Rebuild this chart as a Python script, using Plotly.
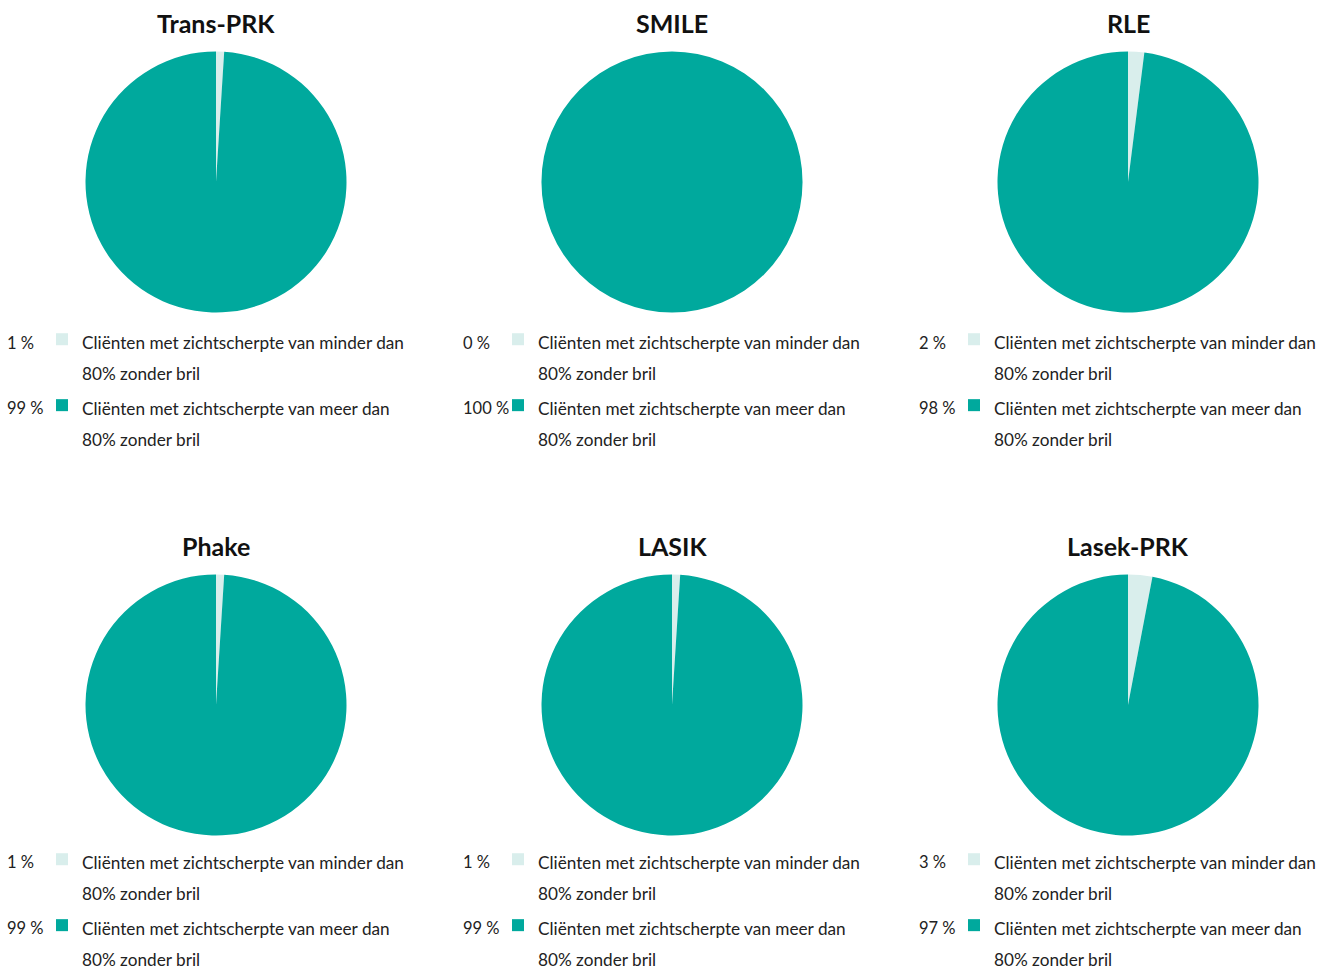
import plotly.graph_objects as go

titles = ["Trans-PRK", "SMILE", "RLE", "Phake", "LASIK", "Lasek-PRK"]
labels = [
    "Cliënten met zichtscherpte van minder dan<br>80% zonder bril",
    "Cliënten met zichtscherpte van meer dan<br>80% zonder bril",
]
minder = [1, 0, 2, 1, 1, 3]
meer = [99, 100, 98, 99, 99, 97]
colors = ["#d9eeec", "#00a99d"]

W, H = 1324, 972
centers_x = [216, 672, 1128]
centers_y = [182, 705]
R = 130.5
TXT = 17.2
PCT = 16.5
LEG = 24.2

legend_dy = [135, 132]
pct_dy = [[161, 226], [157, 223]]

fig = go.Figure()
annotations = []

def wrap(t):
    return "<br>".join(f'<span style="font-size:{TXT}px">{p}</span>' for p in t.split("<br>"))

for i, title in enumerate(titles):
    col, row = i % 3, i // 3
    cx, cy = centers_x[col], centers_y[row]
    lid = "legend" if i == 0 else f"legend{i + 1}"
    fig.add_trace(go.Pie(
        labels=[wrap(l) for l in labels],
        values=[minder[i], meer[i]],
        marker=dict(colors=colors, line=dict(width=0)),
        sort=False,
        direction="clockwise",
        rotation=0,
        textinfo="none",
        hoverinfo="label+percent",
        domain=dict(x=[(cx - R) / W, (cx + R) / W],
                    y=[1 - (cy + R) / H, 1 - (cy - R) / H]),
        legend=lid,
        legendgroup=f"g{i}",
        showlegend=True,
    ))
    lx = cx - 216 + 42
    ly = cy + legend_dy[row]
    fig.layout[lid] = dict(
        x=lx / W, y=1 - ly / H, xanchor="left", yanchor="top",
        font=dict(size=LEG, family="Lato", color="#222"),
        bgcolor="rgba(0,0,0,0)", valign="top", tracegroupgap=0,
        itemclick=False, itemdoubleclick=False,
    )
    annotations.append(dict(
        text=f"<b>{title}</b>", x=cx / W, y=1 - (cy - 159) / H,
        xref="paper", yref="paper", showarrow=False,
        font=dict(size=25, family="Lato", color="#111"),
        xanchor="center", yanchor="middle",
    ))
    for k, v in enumerate([minder[i], meer[i]]):
        annotations.append(dict(
            text=f"{v} %", x=(cx - 211) / W, y=1 - (cy + pct_dy[row][k]) / H,
            xref="paper", yref="paper", showarrow=False,
            font=dict(size=PCT, family="Lato", color="#222"),
            xanchor="left", yanchor="middle",
        ))

fig.update_layout(
    width=W, height=H,
    margin=dict(l=0, r=0, t=0, b=0, autoexpand=False),
    paper_bgcolor="white", plot_bgcolor="white",
    annotations=annotations,
    font=dict(family="Lato"),
)
fig.write_html(
    "out.html",
    config={"displayModeBar": False},
    post_script="document.body.style.margin='0';document.body.style.overflow='hidden';",
)
